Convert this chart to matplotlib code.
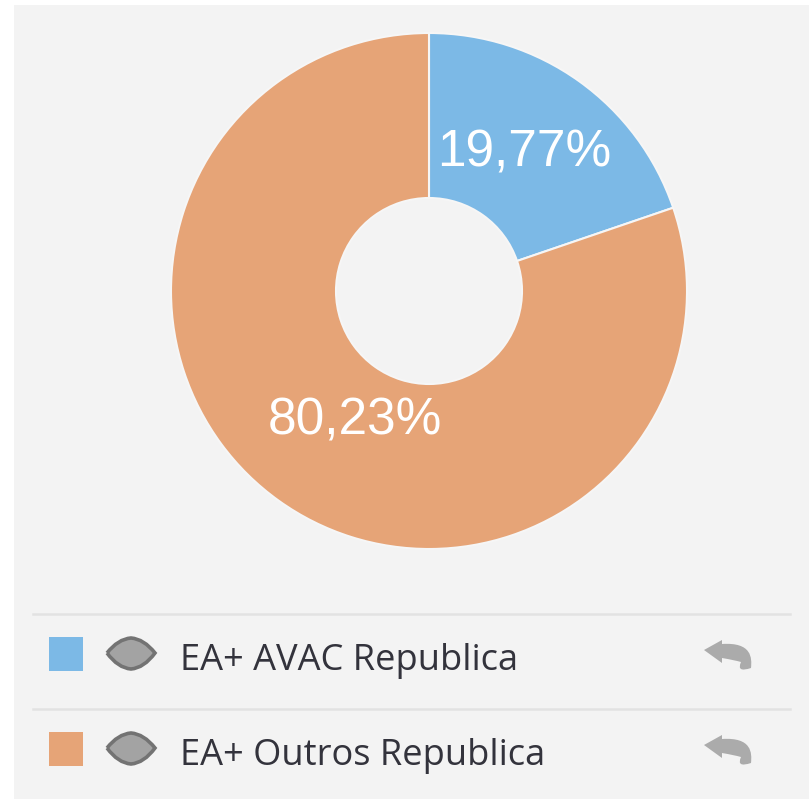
import matplotlib
matplotlib.use('Agg')
import matplotlib.pyplot as plt
from matplotlib.patches import Rectangle, PathPatch
from matplotlib.path import Path

# dados do grafico
categorias = ['EA+ AVAC Republica', 'EA+ Outros Republica']
valores = [19.77, 80.23]
rotulos = ['19,77%', '80,23%']
cores = ['#7cb9e6', '#e6a477']

L, A = 809, 799
C3 = Path.CURVE3
C4 = Path.CURVE4

def py(y):  # y da imagem para y do eixo
  return A - y

fig = plt.figure(figsize=(L / 100, A / 100), dpi=100, facecolor='white')
ax = fig.add_axes([0, 0, 1, 1])
ax.add_patch(Rectangle((14, 0), L - 14, py(5), facecolor='#f3f3f3', edgecolor='none', zorder=0))

# rosca
cx, cy, raio = 429, py(291), 258
fatias, _ = ax.pie(valores, colors=cores, center=(cx, cy), radius=raio, startangle=90, counterclock=False,
                   wedgeprops={'width': raio - 93, 'edgecolor': '#f6f6f6', 'linewidth': 1.5}, frame=True)
ax.set_xlim(0, L)
ax.set_ylim(0, A)
ax.set_aspect('equal')
ax.axis('off')

ax.text(524, py(153), rotulos[0], color='white', fontsize=37, family='Liberation Sans', ha='center', va='center')
ax.text(355, py(421), rotulos[1], color='white', fontsize=37, family='Liberation Sans', ha='center', va='center')

# legenda
ax.plot([33, 790], [py(614), py(614)], color='#e2e2e2', lw=1.8)
ax.plot([33, 790], [py(709), py(709)], color='#e2e2e2', lw=1.8)

ys = [655, 750]
for nome, cor, y in zip(categorias, cores, ys):
  ax.add_patch(Rectangle((49, py(y + 16)), 34, 34, facecolor=cor, edgecolor='none'))
  # olho
  pts = [(107, y - 2), (118, y - 16), (131, y - 17), (144, y - 16), (155, y - 2),
         (144, y + 13), (131, y + 14), (118, y + 13), (107, y - 2)]
  cod = [Path.MOVETO, C3, C3, C3, C3, C3, C3, C3, C3]
  ax.add_patch(PathPatch(Path([(a, py(b)) for a, b in pts], cod), facecolor='#a3a3a3', edgecolor='#737373', lw=2.6))
  ax.text(180, py(y + 15), nome, color='#33333c', fontsize=26.1, family='Open Sans', ha='left', va='baseline')
  # seta de desfazer
  pts = [(704, y - 5), (722, y - 15), (722, y - 11), (752, y - 13), (752, y + 3), (751, y + 13), (736, y + 18),
         (741, y + 7), (734, y + 5), (722, y + 3), (722, y + 8), (704, y - 5)]
  cod = [Path.MOVETO, Path.LINETO, Path.LINETO, C4, C4, C4, C3, C3, C3, Path.LINETO, Path.LINETO, Path.CLOSEPOLY]
  ax.add_patch(PathPatch(Path([(a, py(b)) for a, b in pts], cod), facecolor='#ababab', edgecolor='none'))

fig.savefig('out.png', dpi=100, facecolor='white')
